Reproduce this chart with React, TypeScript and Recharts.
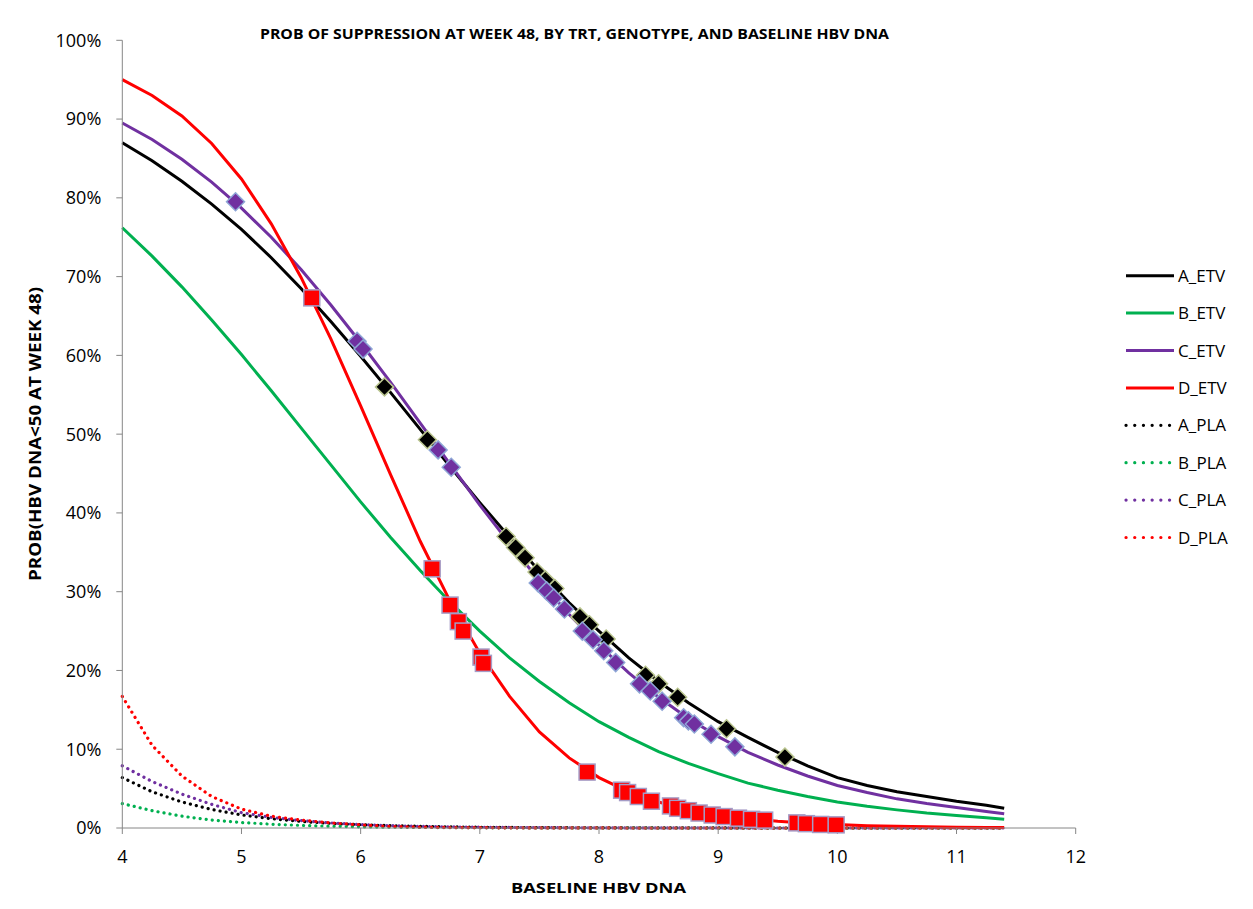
import React from 'react';
import { ComposedChart, Line, Scatter, XAxis, YAxis } from 'recharts';

// ---------- data ----------
const X_GRID = [4, 4.25, 4.5, 4.75, 5, 5.25, 5.5, 5.75, 6, 6.25, 6.5, 6.75, 7, 7.25, 7.5, 7.75, 8, 8.25, 8.5, 8.75, 9, 9.25, 9.5, 9.75, 10, 10.25, 10.5, 10.75, 11, 11.25, 11.4];

const A_ETV = [87.0, 84.7, 82.1, 79.2, 76.0, 72.4, 68.5, 64.3, 59.9, 55.3, 50.6, 45.9, 41.3, 36.9, 32.6, 28.6, 25.0, 21.6, 18.6, 15.9, 13.5, 11.5, 9.6, 7.9, 6.4, 5.4, 4.6, 4.0, 3.4, 2.9, 2.5];
const B_ETV = [76.2, 72.6, 68.7, 64.5, 60.1, 55.5, 50.8, 46.1, 41.4, 36.9, 32.7, 28.7, 25.0, 21.6, 18.6, 15.9, 13.5, 11.5, 9.7, 8.2, 6.9, 5.7, 4.8, 4.0, 3.3, 2.75, 2.3, 1.9, 1.6, 1.3, 1.1];
const C_ETV = [89.5, 87.4, 84.9, 82.0, 78.7, 75.0, 70.9, 66.4, 61.6, 56.6, 51.4, 46.2, 41.0, 36.1, 31.4, 27.1, 23.2, 19.7, 16.6, 13.9, 11.6, 9.6, 8.0, 6.6, 5.4, 4.5, 3.7, 3.1, 2.6, 2.1, 1.8];
const D_ETV = [95.0, 93.0, 90.4, 86.9, 82.4, 76.7, 69.9, 62.1, 53.6, 44.9, 36.4, 28.8, 22.2, 16.7, 12.2, 8.9, 6.4, 4.6, 3.3, 2.3, 1.65, 1.2, 0.85, 0.6, 0.43, 0.3, 0.21, 0.15, 0.11, 0.07, 0.06];

const A_PLA = [6.4, 4.6, 3.3, 2.35, 1.66, 1.18, 0.83, 0.59, 0.42, 0.3, 0.21, 0.15, 0.1, 0.07, 0.05, 0.035, 0.025, 0.018, 0.013, 0.009, 0.006, 0.004, 0.003, 0.002, 0.002, 0.001, 0.001, 0.001, 0, 0, 0];
const B_PLA = [3.1, 2.2, 1.5, 1.0, 0.7, 0.48, 0.33, 0.22, 0.15, 0.1, 0.07, 0.05, 0.03, 0.02, 0.014, 0.01, 0.006, 0.004, 0.003, 0.002, 0.001, 0.001, 0, 0, 0, 0, 0, 0, 0, 0, 0];
const C_PLA = [7.9, 5.9, 4.3, 3.0, 1.95, 1.35, 0.93, 0.64, 0.44, 0.3, 0.21, 0.14, 0.1, 0.07, 0.05, 0.03, 0.02, 0.015, 0.01, 0.007, 0.005, 0.003, 0.002, 0.001, 0.001, 0, 0, 0, 0, 0, 0];
const D_PLA = [16.7, 10.5, 6.6, 4.0, 2.4, 1.5, 1.0, 0.65, 0.4, 0.2, 0.11, 0.06, 0.04, 0.02, 0.013, 0.008, 0.005, 0.003, 0.002, 0.001, 0.001, 0, 0, 0, 0, 0, 0, 0, 0, 0, 0];

// observed points (markers)
const A_MARK_X = [6.20, 6.56, 7.22, 7.30, 7.38, 7.48, 7.55, 7.63, 7.84, 7.92, 8.06, 8.39, 8.50, 8.66, 9.07, 9.56];
const A_MARK_Y = [56.0, 49.3, 37.0, 35.6, 34.3, 32.5, 31.5, 30.4, 26.8, 25.8, 24.0, 19.4, 18.3, 16.6, 12.6, 9.0];
const C_MARK_X = [4.95, 5.97, 6.02, 6.65, 6.76, 7.49, 7.56, 7.62, 7.71, 7.86, 7.95, 8.04, 8.14, 8.34, 8.43, 8.53, 8.71, 8.75, 8.80, 8.94, 9.14];
const C_MARK_Y = [79.5, 61.8, 60.8, 48.0, 45.8, 31.1, 30.1, 29.2, 27.8, 25.0, 23.9, 22.5, 21.0, 18.3, 17.4, 16.1, 14.0, 13.6, 13.2, 11.9, 10.3];
const D_MARK_X = [5.59, 6.60, 6.75, 6.82, 6.86, 7.01, 7.03, 7.90, 8.19, 8.24, 8.33, 8.44, 8.60, 8.66, 8.75, 8.84, 8.95, 9.05, 9.17, 9.28, 9.39, 9.66, 9.74, 9.86, 9.99];
const D_MARK_Y = [67.3, 32.9, 28.3, 26.2, 25.0, 21.7, 20.9, 7.1, 4.8, 4.5, 4.0, 3.4, 2.8, 2.5, 2.2, 1.9, 1.65, 1.45, 1.25, 1.1, 1.0, 0.65, 0.55, 0.45, 0.4];

const X_TICKS = [4, 5, 6, 7, 8, 9, 10, 11, 12];
const Y_TICKS = [0, 10, 20, 30, 40, 50, 60, 70, 80, 90, 100];

const TITLE = 'PROB OF SUPPRESSION AT WEEK 48, BY TRT, GENOTYPE, AND BASELINE HBV DNA';
const X_LABEL = 'BASELINE HBV DNA';
const Y_LABEL = 'PROB(HBV DNA<50 AT WEEK 48)';

const COLORS = { A: '#000000', B: '#00B050', C: '#7030A0', D: '#FF0000' };

const LEGEND = [
  { name: 'A_ETV', color: COLORS.A, dotted: false },
  { name: 'B_ETV', color: COLORS.B, dotted: false },
  { name: 'C_ETV', color: COLORS.C, dotted: false },
  { name: 'D_ETV', color: COLORS.D, dotted: false },
  { name: 'A_PLA', color: COLORS.A, dotted: true },
  { name: 'B_PLA', color: COLORS.B, dotted: true },
  { name: 'C_PLA', color: COLORS.C, dotted: true },
  { name: 'D_PLA', color: COLORS.D, dotted: true },
];

const toPts = (xs: number[], ys: number[]) => xs.map((x, i) => ({ x, y: ys[i] }));

const FONT = "'Open Sans', 'Noto Sans', sans-serif";
const AXIS_COLOR = '#868686';

const Diamond = (fill: string, stroke: string) => (props: any) => {
  const { cx, cy } = props;
  const r = 9;
  return (
    <polygon
      points={`${cx},${cy - r} ${cx + r},${cy} ${cx},${cy + r} ${cx - r},${cy}`}
      fill={fill}
      stroke={stroke}
      strokeWidth={1.5}
    />
  );
};

const Square = (props: any) => {
  const { cx, cy } = props;
  const s = 16;
  return <rect x={cx - s / 2} y={cy - s / 2} width={s} height={s} fill="#FF0000" stroke="#a59cc6" strokeWidth={1.5} />;
};

export default function App() {
  const solid = { strokeWidth: 3, dot: false, activeDot: false, isAnimationActive: false, type: 'linear' as const };
  const dotted = { ...solid, strokeDasharray: '0.1 6', strokeLinecap: 'round' as const, strokeWidth: 3.2 };
  return (
    <div style={{ position: 'relative', width: 1237, height: 890, fontFamily: FONT }}>
      <div
        style={{
          position: 'absolute',
          left: -1,
          top: -1,
          width: 1239,
          height: 902,
          borderTop: '1px solid #8a8a8a',
          borderLeft: '1px solid #8a8a8a',
          borderRight: '1px solid #8a8a8a',
          boxSizing: 'border-box',
        }}
      />
      <div style={{ position: 'absolute', left: 0, top: 0 }}>
        <ComposedChart width={1230} height={870} margin={{ top: 32.3, right: 162.3, left: 0, bottom: 5 }}>
          <XAxis
            dataKey="x"
            type="number"
            domain={[4, 12]}
            ticks={X_TICKS}
            interval={0}
            stroke={AXIS_COLOR}
            tickSize={6}
            tickMargin={16}
            height={45}
            tick={{ fontSize: 18, fill: '#000', fontFamily: FONT }}
          />
          <YAxis
            type="number"
            domain={[0, 100]}
            ticks={Y_TICKS}
            interval={0}
            width={114.3}
            stroke={AXIS_COLOR}
            tickSize={6}
            tickMargin={15}
            tickFormatter={(v: number) => `${v}%`}
            tick={{ fontSize: 18, fill: '#000', fontFamily: FONT }}
          />
          <Line data={toPts(X_GRID, A_PLA)} dataKey="y" stroke={COLORS.A} {...dotted} />
          <Line data={toPts(X_GRID, B_PLA)} dataKey="y" stroke={COLORS.B} {...dotted} />
          <Line data={toPts(X_GRID, C_PLA)} dataKey="y" stroke={COLORS.C} {...dotted} />
          <Line data={toPts(X_GRID, D_PLA)} dataKey="y" stroke={COLORS.D} {...dotted} />
          <Line data={toPts(X_GRID, A_ETV)} dataKey="y" stroke={COLORS.A} {...solid} />
          <Scatter data={toPts(A_MARK_X, A_MARK_Y)} dataKey="y" shape={Diamond('#000000', '#b9c48e')} isAnimationActive={false} />
          <Line data={toPts(X_GRID, B_ETV)} dataKey="y" stroke={COLORS.B} {...solid} />
          <Line data={toPts(X_GRID, C_ETV)} dataKey="y" stroke={COLORS.C} {...solid} />
          <Scatter data={toPts(C_MARK_X, C_MARK_Y)} dataKey="y" shape={Diamond('#7030A0', '#8ea6d6')} isAnimationActive={false} />
          <Line data={toPts(X_GRID, D_ETV)} dataKey="y" stroke={COLORS.D} {...solid} />
          <Scatter data={toPts(D_MARK_X, D_MARK_Y)} dataKey="y" shape={Square} isAnimationActive={false} />
        </ComposedChart>
      </div>
      <svg
        width={1237}
        height={890}
        style={{ position: 'absolute', left: 0, top: 0, pointerEvents: 'none', overflow: 'visible' }}
      >
        <g transform="translate(-8,-8)" fontFamily={FONT}>
          <text x={574.5} y={39} textAnchor="middle" fontWeight={700} fontSize={15} textLength={629} lengthAdjust="spacingAndGlyphs" fill="#000">
            {TITLE}
          </text>
          <text x={598.5} y={893} textAnchor="middle" fontWeight={700} fontSize={15} textLength={175} lengthAdjust="spacingAndGlyphs" fill="#000">
            {X_LABEL}
          </text>
          <text x={41} y={434} textAnchor="middle" fontWeight={700} fontSize={16.5} textLength={294} lengthAdjust="spacingAndGlyphs" fill="#000" transform="rotate(-90 41 434)">
            {Y_LABEL}
          </text>
          {LEGEND.map((it, i) => {
            const cy = 275.7 + i * 37.4;
            return (
              <g key={it.name}>
                <line
                  x1={1126}
                  x2={it.dotted ? 1170 : 1174}
                  y1={cy}
                  y2={cy}
                  stroke={it.color}
                  strokeWidth={it.dotted ? 3.2 : 3}
                  strokeLinecap={it.dotted ? 'round' : 'butt'}
                  strokeDasharray={it.dotted ? '0.1 8.6' : undefined}
                />
                <text x={1178} y={cy + 6} fontSize={17} fill="#000">
                  {it.name}
                </text>
              </g>
            );
          })}
        </g>
      </svg>
    </div>
  );
}
